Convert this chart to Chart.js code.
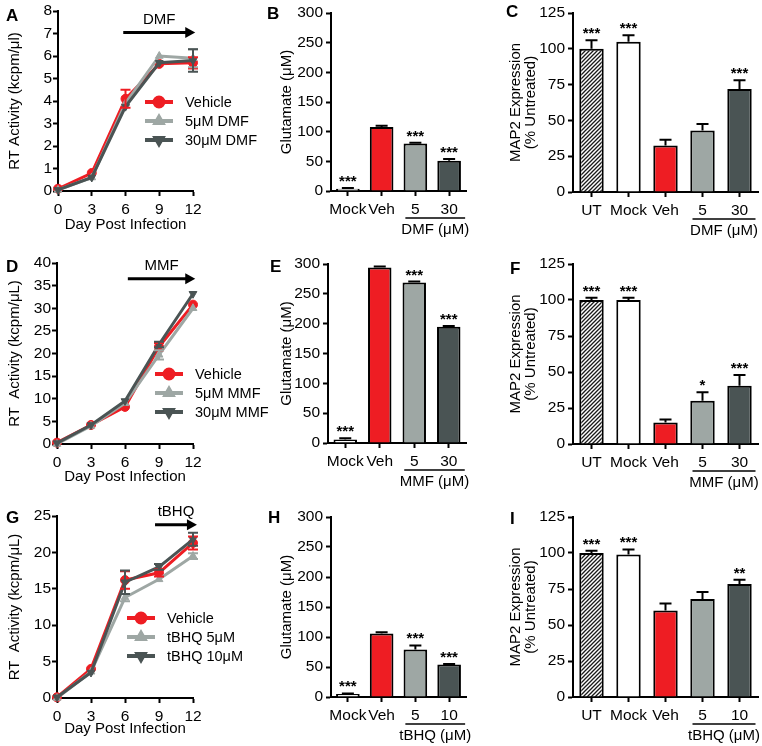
<!DOCTYPE html>
<html>
<head>
<meta charset="utf-8">
<script src="https://cdn.jsdelivr.net/npm/chart.js@4.4.1/dist/chart.umd.min.js"></script>
<style>
  body { margin: 0; background: #fff; }
  #fig { position: relative; width: 762px; height: 746px; overflow: hidden; }
  #fig canvas { position: absolute; }
  .tag { position: absolute; font: bold 17px 'Liberation Sans', Arial, sans-serif; line-height: 17px; color: #000; }
</style>
</head>
<body>
<div id="fig"></div>
<script>
// time course (day post infection)
const days = [0, 3, 6, 9, 12];

const dmfVehicle = [0.1, 0.8, 4.1, 5.65, 5.7];
const dmfVehicleErr = [0, 0, 0.4, 0, 0.25];
const dmf5 = [0.05, 0.6, 3.9, 6.0, 5.9];
const dmf5Err = [0, 0, 0, 0, 0.4];
const dmf30 = [0.05, 0.6, 3.75, 5.7, 5.8];
const dmf30Err = [0, 0, 0, 0, 0.5];

const mmfVehicle = [0.3, 4.2, 8.2, 21.5, 30.8];
const mmfVehicleErr = [0, 0, 0, 0.8, 0];
const mmf5 = [0, 4.0, 9.0, 19.7, 30.0];
const mmf5Err = [0, 0, 0, 1.0, 0];
const mmf30 = [0.2, 4.2, 9.5, 22.0, 33.2];
const mmf30Err = [0, 0, 0, 0.6, 0];

const tbhqVehicle = [0.1, 4.0, 16.2, 17.2, 21.3];
const tbhqVehicleErr = [0, 0, 1.2, 0.5, 0.9];
const tbhq5 = [0, 3.6, 13.8, 16.3, 19.5];
const tbhq5Err = [0, 0, 0.5, 0, 0.4];
const tbhq10 = [0.1, 3.5, 15.9, 18.0, 21.8];
const tbhq10Err = [0, 0, 1.6, 0.4, 0.9];

// glutamate bars
const glutLabels = ["Mock", "Veh", "5", "30"];
const glutLabelsTbhq = ["Mock", "Veh", "5", "10"];
const dmfGlut = [4, 108, 80, 51];
const dmfGlutErr = [1.2, 2, 1.5, 3];
const mmfGlut = [6, 294, 269, 195];
const mmfGlutErr = [2, 2, 1.5, 1];
const tbhqGlut = [5, 106, 79, 54];
const tbhqGlutErr = [1, 2, 7, 1];
const glutStars = ["***", "", "***", "***"];

// MAP2 bars
const map2Labels = ["UT", "Mock", "Veh", "5", "30"];
const map2LabelsTbhq = ["UT", "Mock", "Veh", "5", "10"];
const dmfMap2 = [100, 105, 32.5, 43, 72];
const dmfMap2Err = [6, 4.5, 4, 4.5, 6];
const dmfMap2Stars = ["***", "***", "", "", "***"];
const mmfMap2 = [100, 100, 15, 30, 40.5];
const mmfMap2Err = [1.5, 1.5, 2, 6, 7.5];
const mmfMap2Stars = ["***", "***", "", "*", "***"];
const tbhqMap2 = [100, 99, 60, 68, 78.5];
const tbhqMap2Err = [1.5, 3.5, 5, 5, 3];
const tbhqMap2Stars = ["***", "***", "", "", "**"];

const RED = "#ee1d23";
const LIGHT = "#9ea7a4";
const DARK = "#4a5454";
const FONT = "'Liberation Sans', Arial, Helvetica, sans-serif";
const TICK = 15.5;
const TITLE = 15;

Chart.defaults.font.family = FONT;
Chart.defaults.color = "#000";

const fig = document.getElementById("fig");

function addCanvas(box) {
    const c = document.createElement("canvas");
    c.width = box.w;
    c.height = box.h;
    c.style.left = box.x + "px";
    c.style.top = box.y + "px";
    c.style.width = box.w + "px";
    c.style.height = box.h + "px";
    fig.appendChild(c);
    return c;
}

function addTag(text, x, y) {
    const d = document.createElement("div");
    d.className = "tag";
    d.textContent = text;
    d.style.left = (x - 1) + "px";
    d.style.top = (y - 2) + "px";
    fig.appendChild(d);
}

function axisStyle() {
    return {
        border: { display: true, color: "#000", width: 2 },
        grid: { display: true, drawOnChartArea: false, drawTicks: true, tickLength: 5, tickWidth: 2, tickColor: "#000", color: "#000", offset: false }
    };
}

// fix the plot area to given page coordinates
function frame(box, area, padL, padB) {
    return {
        padding: { left: padL, top: area.t - box.y, right: box.x + box.w - area.r, bottom: padB },
        yFit: s => { s.width = area.l - box.x - padL; s.paddingTop = 0; s.paddingBottom = 0; },
        xFit: s => { s.height = box.y + box.h - area.b - padB; s.paddingLeft = 0; s.paddingRight = 0; }
    };
}

function mark(ctx, style, rot, r, x, y) {
    Chart.helpers.drawPoint(ctx, { pointStyle: style, rotation: rot, radius: r, borderWidth: 1 }, x, y);
}

function lineExtras(o) {
    return {
        id: "lineExtras",
        afterDatasetsDraw(chart) {
            const { ctx, scales: { x, y } } = chart;
            ctx.save();
            ctx.lineWidth = 2;
            o.series.forEach(s => {
                ctx.strokeStyle = s.color;
                days.forEach((d, i) => {
                    if (!s.errs[i]) return;
                    const px = x.getPixelForValue(d);
                    const hi = y.getPixelForValue(s.vals[i] + s.errs[i]);
                    const lo = y.getPixelForValue(s.vals[i] - s.errs[i]);
                    ctx.beginPath();
                    ctx.moveTo(px, lo); ctx.lineTo(px, hi);
                    ctx.moveTo(px - 5, hi); ctx.lineTo(px + 5, hi);
                    ctx.moveTo(px - 5, lo); ctx.lineTo(px + 5, lo);
                    ctx.stroke();
                });
            });
            ctx.restore();
        },
        afterDraw(chart) {
            const { ctx, chartArea, scales: { x, y } } = chart;
            ctx.save();
            // treatment arrow
            const ay = y.getPixelForValue(o.arrow.y);
            const a0 = x.getPixelForValue(o.arrow.from);
            const a1 = x.getPixelForValue(o.arrow.to);
            ctx.strokeStyle = "#000";
            ctx.fillStyle = "#000";
            ctx.lineWidth = 3;
            ctx.beginPath();
            ctx.moveTo(a0, ay); ctx.lineTo(a1 - 8, ay);
            ctx.stroke();
            ctx.beginPath();
            ctx.moveTo(a1, ay); ctx.lineTo(a1 - 10, ay - 5.5); ctx.lineTo(a1 - 10, ay + 5.5);
            ctx.closePath();
            ctx.fill();
            ctx.font = "15px " + FONT;
            ctx.textAlign = "center";
            ctx.textBaseline = "middle";
            ctx.fillText(o.arrow.text, (a0 + a1) / 2, ay - 13);

            // legend
            const lx = chartArea.left + o.legend.dx;
            let ly = chartArea.top + o.legend.dy;
            ctx.textAlign = "left";
            ctx.font = "14.5px " + FONT;
            o.series.forEach(s => {
                ctx.strokeStyle = s.color;
                ctx.fillStyle = s.color;
                ctx.lineWidth = 4;
                ctx.beginPath();
                ctx.moveTo(lx, ly); ctx.lineTo(lx + 28, ly);
                ctx.stroke();
                mark(ctx, s.style, s.rot, s.style === "circle" ? 4.5 : 4, lx + 14, ly);
                ctx.fillStyle = "#000";
                ctx.fillText(s.label, lx + 40, ly + 1);
                ly += 19;
            });
            ctx.restore();
        }
    };
}

function lineChart(box, area, o) {
    const f = frame(box, area, o.padL, o.padB);
    return new Chart(addCanvas(box), {
        type: "line",
        data: {
            datasets: o.series.map((s, k) => ({
                label: s.label,
                data: days.map((d, i) => ({ x: d, y: s.vals[i] })),
                borderColor: s.color,
                backgroundColor: s.color,
                pointBorderColor: s.color,
                pointBackgroundColor: s.color,
                borderWidth: 3,
                pointStyle: s.style,
                pointRotation: s.rot,
                pointRadius: s.style === "circle" ? 4.5 : 4.5,
                pointBorderWidth: 1,
                tension: 0,
                clip: false,
                order: 3 - k
            }))
        },
        options: {
            responsive: false,
            animation: false,
            devicePixelRatio: 1,
            layout: { padding: f.padding },
            plugins: { legend: { display: false }, tooltip: { enabled: false } },
            scales: {
                x: {
                    type: "linear", min: 0, max: 12,
                    ...axisStyle(),
                    ticks: { stepSize: 3, padding: 4, maxRotation: 0, color: "#000", font: { size: TICK } },
                    title: { display: true, text: "Day Post Infection", color: "#000", font: { size: TITLE }, padding: { top: 4, bottom: 4 } },
                    afterFit: f.xFit
                },
                y: {
                    type: "linear", min: 0, max: o.yMax,
                    ...axisStyle(),
                    ticks: { stepSize: o.yStep, padding: 1, color: "#000", font: { size: TICK } },
                    title: { display: true, text: o.yTitle, color: "#000", font: { size: TITLE }, padding: { top: 4, bottom: 4 } },
                    afterFit: f.yFit
                }
            }
        },
        plugins: [lineExtras(o)]
    });
}

function barExtras(o) {
    return {
        id: "barExtras",
        afterDatasetsDraw(chart) {
            const { ctx, scales: { x, y } } = chart;
            ctx.save();
            ctx.strokeStyle = "#000";
            ctx.fillStyle = "#000";
            ctx.lineWidth = 2;
            ctx.font = "bold 15px " + FONT;
            ctx.textAlign = "center";
            ctx.textBaseline = "alphabetic";
            o.vals.forEach((v, i) => {
                const px = x.getPixelForValue(i);
                const base = y.getPixelForValue(v);
                const top = y.getPixelForValue(v + o.errs[i]);
                ctx.beginPath();
                ctx.moveTo(px, base); ctx.lineTo(px, top);
                ctx.moveTo(px - 6, top); ctx.lineTo(px + 6, top);
                ctx.stroke();
                if (o.stars[i]) ctx.fillText(o.stars[i], px, top - 2);
            });
            ctx.restore();
        },
        afterDraw(chart) {
            const { ctx, chartArea, scales: { x } } = chart;
            const n = o.vals.length;
            const x0 = x.getPixelForValue(n - 2) - 10;
            const x1 = x.getPixelForValue(n - 1) + 16;
            ctx.save();
            ctx.strokeStyle = "#000";
            ctx.lineWidth = 1.5;
            ctx.beginPath();
            ctx.moveTo(x0, chartArea.bottom + 27); ctx.lineTo(x1, chartArea.bottom + 27);
            ctx.stroke();
            ctx.fillStyle = "#000";
            ctx.font = "15px " + FONT;
            ctx.textAlign = "center";
            ctx.textBaseline = "middle";
            ctx.fillText(o.group, (x0 + x1) / 2, chartArea.bottom + 39);
            ctx.restore();
        }
    };
}

function barChart(box, area, o) {
    const f = frame(box, area, o.padL, 0);
    return new Chart(addCanvas(box), {
        type: "bar",
        data: {
            labels: o.labels,
            datasets: [{
                data: o.vals,
                backgroundColor: o.colors,
                borderColor: "#000",
                borderWidth: 2,
                barPercentage: o.barPct,
                categoryPercentage: 1,
                clip: false
            }]
        },
        options: {
            responsive: false,
            animation: false,
            devicePixelRatio: 1,
            layout: { padding: f.padding },
            plugins: { legend: { display: false }, tooltip: { enabled: false } },
            scales: {
                x: {
                    offset: true,
                    ...axisStyle(),
                    ticks: { padding: 4, maxRotation: 0, autoSkip: false, color: "#000", font: { size: TICK } },
                    afterFit: f.xFit
                },
                y: {
                    min: 0, max: o.yMax,
                    ...axisStyle(),
                    ticks: { stepSize: o.yStep, padding: 3, color: "#000", font: { size: TICK } },
                    title: o.titleLines
                        ? { display: true, text: o.yTitle, color: "#000", font: { size: TITLE, lineHeight: 1 }, padding: { top: 0, bottom: 0 } }
                        : { display: true, text: o.yTitle, color: "#000", font: { size: TITLE }, padding: { top: 4, bottom: 4 } },
                    afterFit: f.yFit
                }
            }
        },
        plugins: [barExtras(o)]
    });
}

function hatch() {
    const c = document.createElement("canvas");
    c.width = 4;
    c.height = 4;
    const g = c.getContext("2d");
    g.fillStyle = "#fff";
    g.fillRect(0, 0, 4, 4);
    g.strokeStyle = "#1a1a1a";
    g.lineWidth = 1.3;
    g.beginPath();
    g.moveTo(-1, 5); g.lineTo(5, -1);
    g.moveTo(-3, 3); g.lineTo(3, -3);
    g.moveTo(1, 7); g.lineTo(7, 1);
    g.stroke();
    return g.createPattern(c, "repeat");
}

const glutColors = ["#fff", RED, LIGHT, DARK];
const map2Colors = [hatch(), "#fff", RED, LIGHT, DARK];

// row 1 - DMF
lineChart({ x: 0, y: 0, w: 280, h: 248 }, { l: 58, t: 11, r: 193, b: 191 }, {
    padL: 2, padB: 10, yMax: 8, yStep: 1, yTitle: "RT Activity (kcpm/μl)",
    series: [
        { label: "Vehicle", vals: dmfVehicle, errs: dmfVehicleErr, color: RED, style: "circle", rot: 0 },
        { label: "5μM DMF", vals: dmf5, errs: dmf5Err, color: LIGHT, style: "triangle", rot: 0 },
        { label: "30μM DMF", vals: dmf30, errs: dmf30Err, color: DARK, style: "triangle", rot: 180 }
    ],
    arrow: { from: 5.8, to: 12.2, y: 7.05, text: "DMF" },
    legend: { dx: 87, dy: 91 }
});
barChart({ x: 254, y: 0, w: 254, h: 248 }, { l: 331, t: 13, r: 466, b: 191 }, {
    padL: 20, yMax: 300, yStep: 50, yTitle: "Glutamate (μM)", labels: glutLabels,
    vals: dmfGlut, errs: dmfGlutErr, stars: glutStars, colors: glutColors, barPct: 0.7, group: "DMF (μM)"
});
barChart({ x: 508, y: 0, w: 254, h: 248 }, { l: 573, t: 13, r: 758, b: 192 }, {
    padL: 0.5, yMax: 125, yStep: 25, titleLines: true, yTitle: ["MAP2 Expression", "(% Untreated)"], labels: map2Labels,
    vals: dmfMap2, errs: dmfMap2Err, stars: dmfMap2Stars, colors: map2Colors, barPct: 0.66, group: "DMF (μM)"
});

// row 2 - MMF
lineChart({ x: 0, y: 248, w: 280, h: 248 }, { l: 57, t: 263, r: 193, b: 444 }, {
    padL: 2, padB: 6, yMax: 40, yStep: 5, yTitle: "RT  Activity (kcpm/μL)",
    series: [
        { label: "Vehicle", vals: mmfVehicle, errs: mmfVehicleErr, color: RED, style: "circle", rot: 0 },
        { label: "5μM MMF", vals: mmf5, errs: mmf5Err, color: LIGHT, style: "triangle", rot: 0 },
        { label: "30μM MMF", vals: mmf30, errs: mmf30Err, color: DARK, style: "triangle", rot: 180 }
    ],
    arrow: { from: 6.25, to: 12.2, y: 36.5, text: "MMF" },
    legend: { dx: 98, dy: 111 }
});
barChart({ x: 254, y: 248, w: 254, h: 248 }, { l: 328, t: 264, r: 466, b: 443 }, {
    padL: 20, yMax: 300, yStep: 50, yTitle: "Glutamate (μM)", labels: glutLabels,
    vals: mmfGlut, errs: mmfGlutErr, stars: glutStars, colors: glutColors, barPct: 0.68, group: "MMF (μM)"
});
barChart({ x: 508, y: 248, w: 254, h: 248 }, { l: 573, t: 264, r: 758, b: 444 }, {
    padL: 0.5, yMax: 125, yStep: 25, titleLines: true, yTitle: ["MAP2 Expression", "(% Untreated)"], labels: map2Labels,
    vals: mmfMap2, errs: mmfMap2Err, stars: mmfMap2Stars, colors: map2Colors, barPct: 0.66, group: "MMF (μM)"
});

// row 3 - tBHQ
lineChart({ x: 0, y: 496, w: 280, h: 250 }, { l: 57, t: 516, r: 193, b: 698 }, {
    padL: 2, padB: 4, yMax: 25, yStep: 5, yTitle: "RT  Activity (kcpm/μL)",
    series: [
        { label: "Vehicle", vals: tbhqVehicle, errs: tbhqVehicleErr, color: RED, style: "circle", rot: 0 },
        { label: "tBHQ 5μM", vals: tbhq5, errs: tbhq5Err, color: LIGHT, style: "triangle", rot: 0 },
        { label: "tBHQ 10μM", vals: tbhq10, errs: tbhq10Err, color: DARK, style: "triangle", rot: 180 }
    ],
    arrow: { from: 8.65, to: 12.35, y: 23.8, text: "tBHQ" },
    legend: { dx: 70, dy: 102 }
});
barChart({ x: 254, y: 496, w: 254, h: 250 }, { l: 331, t: 517, r: 466, b: 697 }, {
    padL: 20, yMax: 300, yStep: 50, yTitle: "Glutamate (μM)", labels: glutLabelsTbhq,
    vals: tbhqGlut, errs: tbhqGlutErr, stars: glutStars, colors: glutColors, barPct: 0.7, group: "tBHQ (μM)"
});
barChart({ x: 508, y: 496, w: 254, h: 250 }, { l: 573, t: 517, r: 758, b: 697 }, {
    padL: 0.5, yMax: 125, yStep: 25, titleLines: true, yTitle: ["MAP2 Expression", "(% Untreated)"], labels: map2LabelsTbhq,
    vals: tbhqMap2, errs: tbhqMap2Err, stars: tbhqMap2Stars, colors: map2Colors, barPct: 0.66, group: "tBHQ (μM)"
});

// panel letters
addTag("A", 7, 9);
addTag("B", 268, 7);
addTag("C", 507, 5);
addTag("D", 7, 260);
addTag("E", 271, 260);
addTag("F", 511, 262);
addTag("G", 7, 511);
addTag("H", 269, 511);
addTag("I", 511, 512);
</script>
</body>
</html>
